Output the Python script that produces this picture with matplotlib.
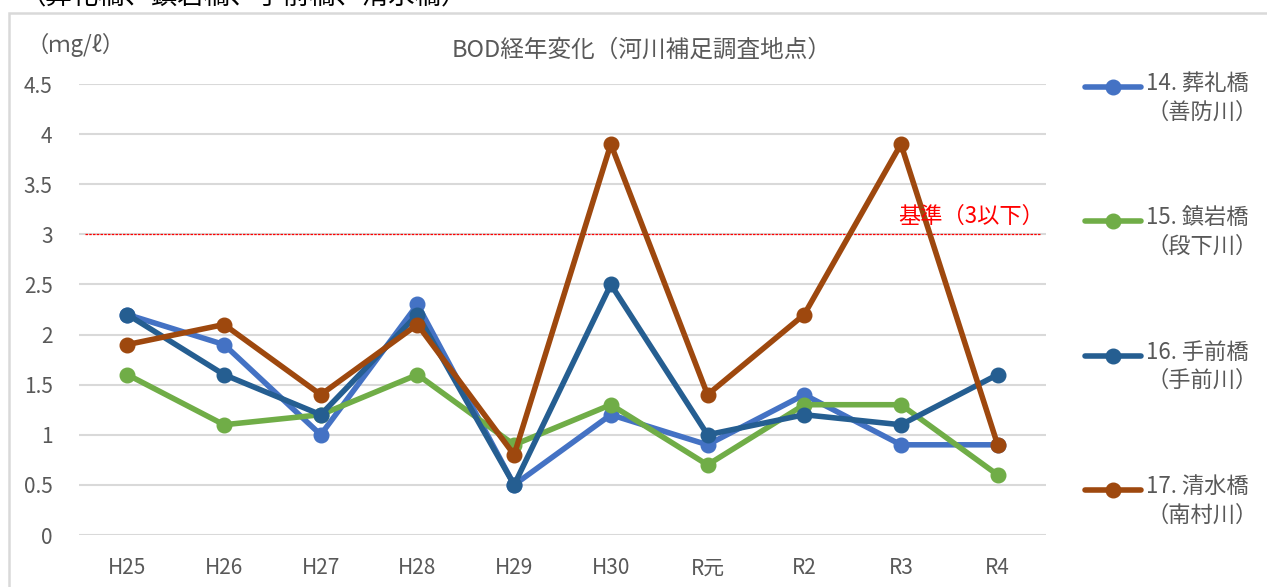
import matplotlib.pyplot as plt
from matplotlib.lines import Line2D
from matplotlib.patches import Rectangle

plt.rcParams['font.family'] = ['Noto Sans CJK JP', 'DejaVu Sans']

years = ['H25', 'H26', 'H27', 'H28', 'H29', 'H30', 'R元', 'R2', 'R3', 'R4']
s14 = [2.2, 1.9, 1.0, 2.3, 0.5, 1.2, 0.9, 1.4, 0.9, 0.9]
s15 = [1.6, 1.1, 1.2, 1.6, 0.9, 1.3, 0.7, 1.3, 1.3, 0.6]
s16 = [2.2, 1.6, 1.2, 2.2, 0.5, 2.5, 1.0, 1.2, 1.1, 1.6]
s17 = [1.9, 2.1, 1.4, 2.1, 0.8, 3.9, 1.4, 2.2, 3.9, 0.9]
labels = ['14. 葬礼橋\n（善防川）', '15. 鎮岩橋\n（段下川）',
          '16. 手前橋\n（手前川）', '17. 清水橋\n（南村川）']
colors = ['#4472C4', '#70AD47', '#255E91', '#9E480E']
limit = 3

W, H = 1267, 587
fig = plt.figure(figsize=(W / 100, H / 100), dpi=100)
ax = fig.add_axes([79 / W, 1 - 535 / H, (1046 - 79) / W, (535 - 84) / H])

x = range(len(years))
for vals, lab, c in zip([s14, s15, s16, s17], labels, colors):
    ax.plot(x, vals, color=c, lw=4, marker='o', ms=10.5, label=lab,
            solid_capstyle='round', solid_joinstyle='round', clip_on=False)

ax.axhline(limit, xmin=0.006, xmax=0.994, color='red', lw=0.9, ls=(0, (2, 1)), zorder=1)
ax.text(9.48, limit + 0.06, '基準（3以下）', color='red', fontsize=16,
        ha='right', va='bottom')

ax.set_xlim(-0.5, len(years) - 0.5)
ax.set_ylim(0, 4.5)
ax.set_yticks([0, 0.5, 1, 1.5, 2, 2.5, 3, 3.5, 4, 4.5])
ax.set_yticklabels(['0', '0.5', '1', '1.5', '2', '2.5', '3', '3.5', '4', '4.5'])
ax.set_xticks(list(x))
ax.set_xticklabels(years)
ax.tick_params(axis='both', length=0, labelsize=15, colors='#595959')
ax.tick_params(axis='y', pad=19)
ax.tick_params(axis='x', pad=16)
ax.grid(axis='y', color='#D9D9D9', lw=1.5)
ax.set_axisbelow(True)
for sp in ax.spines.values():
    sp.set_visible(False)

fig.text(642 / W, 1 - 50 / H, 'BOD経年変化（河川補足調査地点）', fontsize=17,
         color='#595959', ha='center', va='center')
fig.text(26 / W, 1 - 45 / H, '（ｍg/ℓ）', fontsize=16,
         color='#595959', ha='left', va='center')

# cut-off heading above the chart frame
fig.text(20 / W, 1 + 3 / H, '（葬礼橋、鎮岩橋、手前橋、清水橋）', fontsize=19,
         color='black', ha='left', va='center')

fig.patches.append(Rectangle((9 / W, -0.1), 1.2, 1 - 13 / H + 0.1,
                             transform=fig.transFigure, fill=False,
                             edgecolor='#D9D9D9', lw=1.8))

# legend: handle aligned with first text line, as in the reference
for i, line in enumerate(ax.get_lines()[:4]):
    yy = 1 - (87 + 134.3 * i) / H
    fig.add_artist(Line2D([1085 / W, 1141 / W], [yy, yy], transform=fig.transFigure,
                          color=line.get_color(), lw=4, solid_capstyle='round'))
    fig.add_artist(Line2D([1113 / W], [yy], transform=fig.transFigure,
                          color=line.get_color(), marker='o', ms=10.5))
    fig.text(1146 / W, yy + 15 / H, line.get_label(), fontsize=16, color='#595959',
             ha='left', va='top', multialignment='left', linespacing=1.3)

fig.savefig('out.png', dpi=100)
